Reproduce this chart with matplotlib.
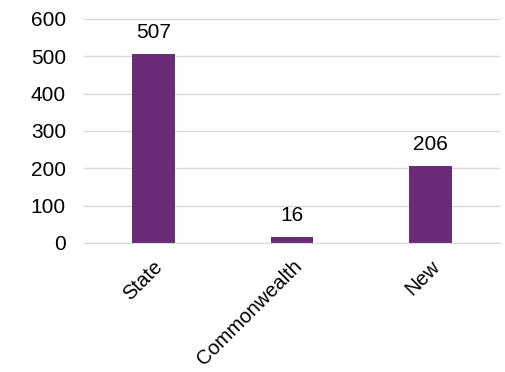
import matplotlib.pyplot as plt

plt.rcParams['font.family'] = ['Liberation Sans', 'DejaVu Sans']

categories = ["State", "Commonwealth", "New"]
values = [507, 16, 206]
yticks = [0, 100, 200, 300, 400, 500, 600]

fig = plt.figure(figsize=(5.06, 3.72), dpi=100)
ax = fig.add_axes([84 / 506, 1 - 243 / 372, (500 - 84) / 506, (243 - 19) / 372])

x = list(range(len(categories)))
ax.bar(x, values, width=0.31, color="#6B2C77", zorder=3)
for xi, v in zip(x, values):
    ax.text(xi, v + 42, str(v), ha="center", va="baseline", fontsize=15, color="#000000")

ax.set_xlim(-0.5, len(categories) - 0.5)
ax.set_ylim(0, 600)
ax.set_yticks(yticks)
ax.set_yticklabels([str(t) for t in yticks], fontsize=15)
ax.set_xticks(x)
ax.set_xticklabels(categories, fontsize=14.5, rotation=45, ha="right", va="top",
                   rotation_mode="anchor")
ax.tick_params(axis="x", length=0, pad=10)
ax.tick_params(axis="y", length=0, pad=13)
ax.grid(axis="y", color="#d9d9d9", linewidth=1, zorder=0)
for side in ["top", "right", "left"]:
    ax.spines[side].set_visible(False)
ax.spines["bottom"].set_color("#d9d9d9")
ax.spines["bottom"].set_zorder(4)

fig.savefig("out.png", dpi=100)
